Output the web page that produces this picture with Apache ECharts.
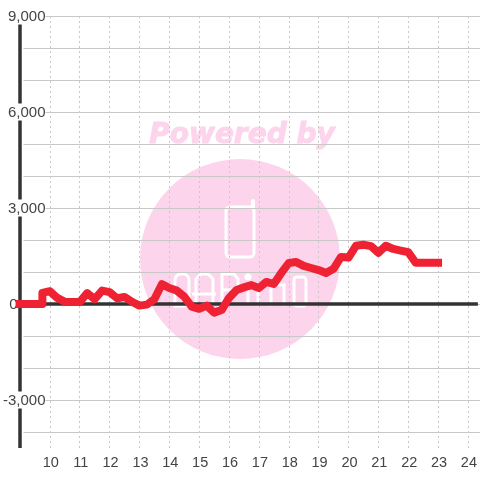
<!DOCTYPE html>
<html><head><meta charset="utf-8">
<style>html,body{margin:0;padding:0;background:#fff}#c{width:480px;height:480px}</style>
<script src="https://cdn.jsdelivr.net/npm/echarts@6/dist/echarts.min.js"></script>
</head><body><div id="c"></div>
<script>
const hours = [9,9.75,9.75,10,10.25,10.5,10.75,11,11.25,11.5,11.75,12,12.25,12.5,12.75,13,13.25,13.5,13.75,14,14.25,14.5,14.75,15,15.25,15.5,15.75,16,16.25,16.5,16.75,17,17.25,17.5,17.75,18,18.25,18.5,18.75,19,19.25,19.5,19.75,20,20.25,20.5,20.75,21,21.25,21.5,21.75,22,22.25,22.5,23];
const values = [0,0,350,400,190,70,60,60,340,150,420,370,180,220,70,-50,-20,150,620,500,420,230,-80,-150,-50,-270,-190,190,440,520,590,500,690,625,970,1280,1310,1190,1125,1060,970,1100,1470,1450,1820,1850,1810,1600,1820,1720,1670,1620,1290,1290,1290];
const yLabelEvery = 3000;
const pink = '#fcd5ec';
const white = {stroke:'#fff',lineWidth:3,fill:'none'};
const wm = (o)=>Object.assign({z:-1,silent:true},o);
const chart = echarts.init(document.getElementById('c'),null,{renderer:'canvas'});
const seriesData = hours.map((h,i)=>[h,values[i]]);
chart.setOption({
  animation:false,
  backgroundColor:'#fff',
  grid:[
    {left:20,top:16,width:460,height:432},
    {left:22,top:16,width:458,height:416}
  ],
  graphic:[
    wm({type:'circle',shape:{cx:240,cy:259,r:100},style:{fill:pink}}),
    wm({type:'text',x:242,y:136,style:{text:'Powered by',font:'italic bold 28px "DejaVu Sans"',fill:pink,stroke:pink,lineWidth:1,align:'center',verticalAlign:'middle'}}),
    wm({type:'rect',shape:{x:226,y:207,width:28,height:50,r:4},style:white}),
    wm({type:'polyline',shape:{points:[[253,207],[253,201]]},style:Object.assign({},white,{lineCap:'round',lineWidth:4})}),
    wm({type:'rect',shape:{x:175,y:274,width:14,height:32,r:[6,6,0,0]},style:white}),
    wm({type:'polyline',shape:{points:[[196,306],[196,279],[201,274],[208,274],[213,279],[213,306]]},style:white}),
    wm({type:'polyline',shape:{points:[[192,294],[216,294]]},style:white}),
    wm({type:'polyline',shape:{points:[[222,306],[222,274],[234,274],[238,279],[238,290],[222,290]]},style:white}),
    wm({type:'circle',shape:{cx:248,cy:277,r:3.5},style:{fill:'#fff'}}),
    wm({type:'polyline',shape:{points:[[248,285],[248,306]]},style:white}),
    wm({type:'polyline',shape:{points:[[258,306],[258,285],[284,285],[284,306]]},style:white}),
    wm({type:'polyline',shape:{points:[[271,285],[271,306]]},style:white}),
    wm({type:'rect',shape:{x:294,y:277,width:12,height:29,r:3},style:white})
  ],
  xAxis:[{
    gridIndex:0,type:'value',min:9,max:24.3333,interval:1,position:'bottom',
    axisLine:{show:false,onZero:false},axisTick:{show:false},
    axisLabel:{color:'#444',fontSize:14.5,fontFamily:'Liberation Sans',margin:7,padding:[0,0,0,2],showMinLabel:false,showMaxLabel:false,
      formatter:v=>Number.isInteger(v)?String(v):''},
    splitLine:{show:true,showMinLine:false,showMaxLine:false,lineStyle:{color:'#c8c8c8',width:1,type:[2,3]}}
  },{
    gridIndex:0,type:'value',min:9,max:24.3333,interval:1,z:4,
    axisLine:{show:true,onZero:true,lineStyle:{color:'#333',width:3.5,cap:'butt'}},
    axisTick:{show:false},axisLabel:{show:false},splitLine:{show:false}
  },{
    gridIndex:1,type:'value',min:9,max:24.3333,show:false
  }],
  yAxis:[{
    gridIndex:0,type:'value',min:-4500,max:9000,interval:1500,
    axisLine:{show:true,onZero:false,lineStyle:{color:'#333',width:3.5,cap:'butt'}},axisTick:{show:false},
    axisLabel:{show:false},splitLine:{show:false}
  },{
    gridIndex:1,type:'value',min:-4000,max:9000,interval:1000,z:3,
    axisLine:{show:false,onZero:false},axisTick:{show:false},
    axisLabel:{color:'#444',fontSize:15,fontFamily:'Liberation Sans',margin:-22,align:'right',
      formatter:v=>{
        if(v===0) return '{z|0}';
        if(v%yLabelEvery!==0) return '';
        return '{b|'+v.toLocaleString('en-US')+'}';
      },
      rich:{b:{backgroundColor:'#fff',padding:[2,0,0,0],fontSize:15,color:'#444'},z:{padding:[2,28,0,0],fontSize:15,color:'#444'}}},
    splitLine:{show:true,lineStyle:{color:'#c8c8c8',width:1}}
  }],
  series:[{
    type:'line',xAxisIndex:0,yAxisIndex:0,data:seriesData,showSymbol:false,smooth:false,clip:false,
    lineStyle:{color:'#ee2233',width:8,cap:'square',join:'round'},z:5
  }]
});
</script></body></html>
